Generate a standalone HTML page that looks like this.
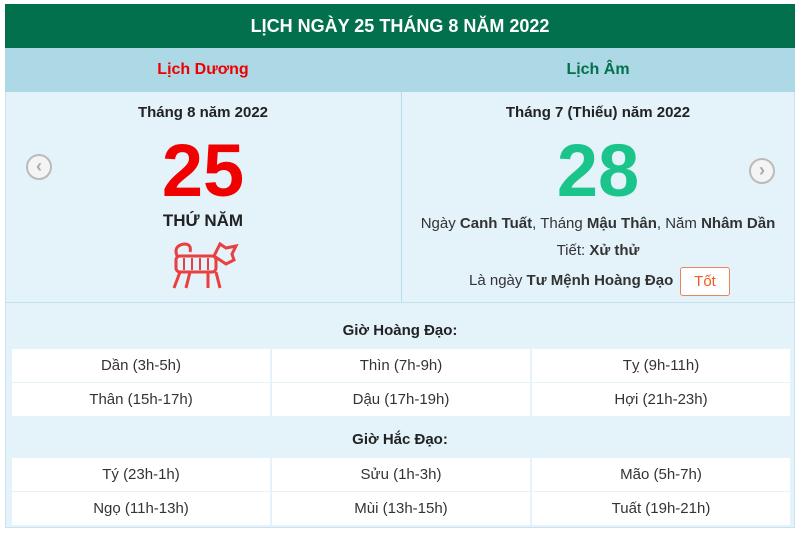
<!DOCTYPE html>
<html><head><meta charset="utf-8"><style>
*{margin:0;padding:0;box-sizing:border-box}
body{width:800px;height:533px;background:#fff;font-family:"Liberation Sans",Arial,sans-serif;position:relative;overflow:hidden;color:#222}
.a{position:absolute}
.c{text-align:center}
.cell{position:absolute;background:#fff;height:33px;line-height:33px;text-align:center;font-size:15px;color:#333}
.arrow{position:absolute;width:26px;height:26px;border-radius:50%;border:2px solid #bbb;background:#f4f4f4;color:#aaa;font-size:18px;line-height:21px;text-align:center;font-weight:bold}
</style></head><body>
<div class="a" style="left:5px;top:4px;width:790px;height:524px;background:#e4f2fa;border:1px solid #c8e3ef"></div>
<div class="a c" style="left:5px;top:4px;width:790px;height:44px;background:#02704c;color:#fff;font-weight:bold;font-size:18px;line-height:44px">LỊCH NGÀY 25 THÁNG 8 NĂM 2022</div>
<div class="a" style="left:5px;top:48px;width:790px;height:44px;background:#add8e6"></div>
<div class="a c" style="left:5px;top:48px;width:396px;line-height:44px;color:#e00;font-size:16px;font-weight:bold">Lịch Dương</div>
<div class="a c" style="left:401px;top:48px;width:394px;line-height:44px;color:#02704c;font-size:16px;font-weight:bold">Lịch Âm</div>
<div class="a" style="left:401px;top:92px;width:1px;height:210px;background:#b9dcec"></div>
<div class="a" style="left:5px;top:302px;width:790px;height:1px;background:#c2e0ee"></div>
<div class="a c" style="left:5px;top:104px;width:396px;font-size:15px;font-weight:bold">Tháng 8 năm 2022</div>
<div class="a c" style="left:5px;top:131px;width:396px;font-size:74px;font-weight:bold;color:#f10000;line-height:80px">25</div>
<div class="a c" style="left:5px;top:211px;width:396px;font-size:17px;font-weight:bold">THỨ NĂM</div>
<svg class="a" style="left:166px;top:238px" width="74" height="54" viewBox="0 0 74 54"><g fill="none" stroke="#e84040" stroke-width="3"><path d="M12 20 q-6 -12 6 -14 q8 0 6 8"/><rect x="10" y="18" width="40" height="16" rx="4"/><path d="M14 34 l-6 16 M24 34 l-4 16 M42 34 l0 16 M50 34 l4 16"/><path d="M48 18 l6 -12 l6 4 l10 -2 l-4 8 l2 6 l-8 4 z"/></g><g stroke="#e84040" stroke-width="2"><path d="M18 20v12 M26 20v12 M34 20v12 M42 20v12"/></g></svg>
<div class="arrow" style="left:26px;top:154px">‹</div>
<div class="arrow" style="left:749px;top:158px">›</div>
<div class="a c" style="left:401px;top:104px;width:394px;font-size:15px;font-weight:bold">Tháng 7 (Thiếu) năm 2022</div>
<div class="a c" style="left:401px;top:131px;width:394px;font-size:74px;font-weight:bold;color:#1ac48a;line-height:80px">28</div>
<div class="a c" style="left:401px;top:215px;width:394px;font-size:15px;color:#333">Ngày <b>Canh Tuất</b>, Tháng <b>Mậu Thân</b>, Năm <b>Nhâm Dần</b></div>
<div class="a c" style="left:401px;top:242px;width:394px;font-size:15px;color:#333">Tiết: <b>Xử thử</b></div>
<div class="a" style="left:469px;top:272px;font-size:15px;color:#333">Là ngày <b>Tư Mệnh Hoàng Đạo</b></div>
<div class="a c" style="left:680px;top:267px;width:50px;height:29px;border:1px solid #e8845a;border-radius:3px;background:#fff;color:#f05a1e;font-size:15px;line-height:27px">Tốt</div>
<div class="a c" style="left:5px;top:322px;width:790px;font-size:15px;font-weight:bold">Giờ Hoàng Đạo:</div>
<div class="cell" style="left:12px;top:349px;width:258px">Dần (3h-5h)</div>
<div class="cell" style="left:272px;top:349px;width:258px">Thìn (7h-9h)</div>
<div class="cell" style="left:532px;top:349px;width:258px">Tỵ (9h-11h)</div>
<div class="cell" style="left:12px;top:383px;width:258px">Thân (15h-17h)</div>
<div class="cell" style="left:272px;top:383px;width:258px">Dậu (17h-19h)</div>
<div class="cell" style="left:532px;top:383px;width:258px">Hợi (21h-23h)</div>
<div class="a c" style="left:5px;top:431px;width:790px;font-size:15px;font-weight:bold">Giờ Hắc Đạo:</div>
<div class="cell" style="left:12px;top:458px;width:258px">Tý (23h-1h)</div>
<div class="cell" style="left:272px;top:458px;width:258px">Sửu (1h-3h)</div>
<div class="cell" style="left:532px;top:458px;width:258px">Mão (5h-7h)</div>
<div class="cell" style="left:12px;top:492px;width:258px">Ngọ (11h-13h)</div>
<div class="cell" style="left:272px;top:492px;width:258px">Mùi (13h-15h)</div>
<div class="cell" style="left:532px;top:492px;width:258px">Tuất (19h-21h)</div>
</body></html>
